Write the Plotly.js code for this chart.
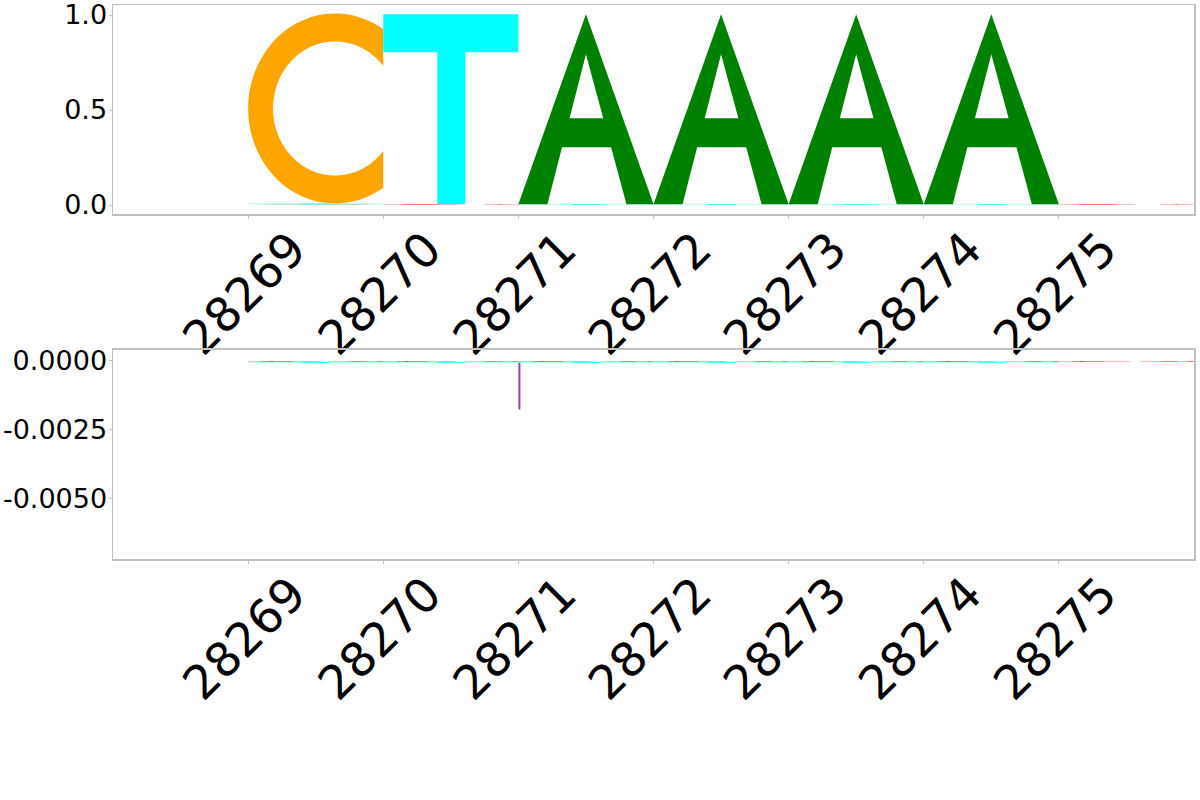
<!DOCTYPE html>
<html>
<head>
<meta charset="utf-8">
<script src="https://cdn.plot.ly/plotly-3.0.1.min.js"></script>
<style>html,body{margin:0;padding:0;background:#fff;}#chart{width:1200px;height:800px;}</style>
</head>
<body>
<div id="chart"></div>
<script>
// ---- data ----
const positions = [28269, 28270, 28271, 28272, 28273, 28274, 28275];
const xTickText = ['28269', '28270', '28271', '28272', '28273', '28274', '28275'];

// upper logo (positive heights per base)
const posA = [0.004, 0, 1.0, 1.0, 1.0, 1.0, 0];
const posC = [1.0, 0, 0, 0, 0, 0, 0];
const posG = [0, 0.004, 0, 0, 0, 0, 0.004];
const posT = [0.004, 1.0, 0.004, 0.004, 0.004, 0.004, 0];

// lower logo (negative heights per base)
const negA = [0, 0, 0, 0, 0, 0, 0];
const negC = [0, 0, 0, 0, 0, 0, 0];
const negG = [-0.00003, -0.00003, -0.00003, -0.00003, -0.00003, -0.00003, -0.00003];
const negT = [-0.00003, -0.00003, -0.00003, -0.00003, -0.00003, -0.00003, 0];
const negGap = [0, 0, -0.0017, 0, 0, 0, 0];

const topYTickVals = [0, 0.5, 1.0];
const topYTickText = ['0.0', '0.5', '1.0'];
const botYTickVals = [0, -0.0025, -0.005];
const botYTickText = ['0.0000', '-0.0025', '-0.0050'];

// ---- glyph outlines in unit box (x 0..1, y 0..1) ----
function arc(cx, cy, rx, ry, a0, a1, n) {
  const pts = [];
  for (let i = 0; i <= n; i++) {
    const a = (a0 + (a1 - a0) * i / n) * Math.PI / 180;
    pts.push([cx + rx * Math.cos(a), cy + ry * Math.sin(a)]);
  }
  return pts;
}
function cRing() {
  const cx = 0.644, cy = 0.5, rxo = 0.644, ryo = 0.5, rxi = 0.46, ryi = 0.353;
  const ao = Math.acos((1 - cx) / rxo) * 180 / Math.PI;
  const ai = Math.acos((1 - cx) / rxi) * 180 / Math.PI;
  return arc(cx, cy, rxo, ryo, ao, 360 - ao, 80).concat(arc(cx, cy, rxi, ryi, 360 - ai, ai, 80));
}
const glyphs = {
  A: [
    [[0, 0], [0.5, 1], [1, 0], [0.8, 0], [0.686, 0.3], [0.323, 0.3], [0.215, 0]],
    [[0.379, 0.453], [0.628, 0.453], [0.5, 0.789]]
  ],
  C: [cRing()],
  G: [cRing(), [[0.6, 0.5], [1, 0.5], [1, 0.08], [0.88, 0.08], [0.88, 0.4], [0.6, 0.4]]],
  T: [[[0, 1], [1, 1], [1, 0.8], [0.607, 0.8], [0.607, 0], [0.4, 0], [0.4, 0.8], [0, 0.8]]],
  '-': [[[0, 0], [0.015, 0], [0.015, 1], [0, 1]]]
};
const colors = { A: '#008000', C: '#FFA500', G: '#FF0000', T: '#00FFFF', '-': '#93479b' };

function glyphPath(letter, x0, base, h) {
  let d = '';
  glyphs[letter].forEach(poly => {
    poly.forEach((p, i) => {
      d += (i === 0 ? 'M' : 'L') + (x0 + p[0]) + ',' + (base + p[1] * h) + ' ';
    });
    d += 'Z ';
  });
  return d;
}

function buildShapes(series, xref, yref) {
  const shapes = [];
  positions.forEach((pos, i) => {
    const items = series.map(s => ({ letter: s.letter, h: s.vals[i] }))
      .filter(it => it.h !== 0)
      .sort((a, b) => Math.abs(a.h) - Math.abs(b.h));
    let base = 0;
    items.forEach(it => {
      shapes.push({
        type: 'path', xref: xref, yref: yref,
        path: glyphPath(it.letter, pos, base, it.h),
        fillcolor: colors[it.letter], fillrule: 'evenodd',
        line: { width: 0 },
        layer: 'above'
      });
      base += it.h;
    });
  });
  return shapes;
}

const shapes = buildShapes([
  { letter: 'A', vals: posA }, { letter: 'C', vals: posC },
  { letter: 'G', vals: posG }, { letter: 'T', vals: posT }
], 'x', 'y').concat(buildShapes([
  { letter: 'A', vals: negA }, { letter: 'C', vals: negC },
  { letter: 'G', vals: negG }, { letter: 'T', vals: negT },
  { letter: '-', vals: negGap }
], 'x2', 'y2'));

const traces = [
  { x: positions, y: posA, type: 'scatter', mode: 'none', xaxis: 'x', yaxis: 'y', hoverinfo: 'skip', showlegend: false },
  { x: positions, y: negG, type: 'scatter', mode: 'none', xaxis: 'x2', yaxis: 'y2', hoverinfo: 'skip', showlegend: false }
];

const tickFontX = { family: 'DejaVu Sans', size: 47, color: '#000' };
const tickFontY = { family: 'DejaVu Sans', size: 27, color: '#000' };
const frame = { showline: true, mirror: true, linecolor: '#c0c0c0', linewidth: 1.5,
  showgrid: false, zeroline: false, ticks: 'outside', ticklen: 3, tickcolor: '#c0c0c0',
  automargin: false, ticklabeloverflow: 'allow' };
const xExtra = { tickmode: 'array', tickvals: positions, ticktext: xTickText, tickangle: -45,
  tickfont: tickFontX, ticklabelshift: 44, ticklabelstandoff: -16 };

const layout = {
  width: 1200, height: 800,
  margin: { l: 113, r: 6, t: 5, b: 241 },
  paper_bgcolor: '#fff', plot_bgcolor: '#fff',
  showlegend: false,
  xaxis: Object.assign({}, frame, xExtra, { anchor: 'y', range: [28268, 28276] }),
  yaxis: Object.assign({}, frame, { anchor: 'x', domain: [0.6227, 1], range: [-0.0474, 1.0526],
    tickmode: 'array', tickvals: topYTickVals, ticktext: topYTickText, tickfont: tickFontY, ticklabelstandoff: -4 }),
  xaxis2: Object.assign({}, frame, xExtra, { anchor: 'y2', range: [28268, 28276] }),
  yaxis2: Object.assign({}, frame, { anchor: 'x2', domain: [0, 0.3773], range: [-0.007174, 0.000399],
    tickmode: 'array', tickvals: botYTickVals, ticktext: botYTickText, tickfont: tickFontY, ticklabelstandoff: -4 }),
  shapes: shapes
};

Plotly.newPlot('chart', traces, layout, { displayModeBar: false, staticPlot: true });
</script>
</body>
</html>
